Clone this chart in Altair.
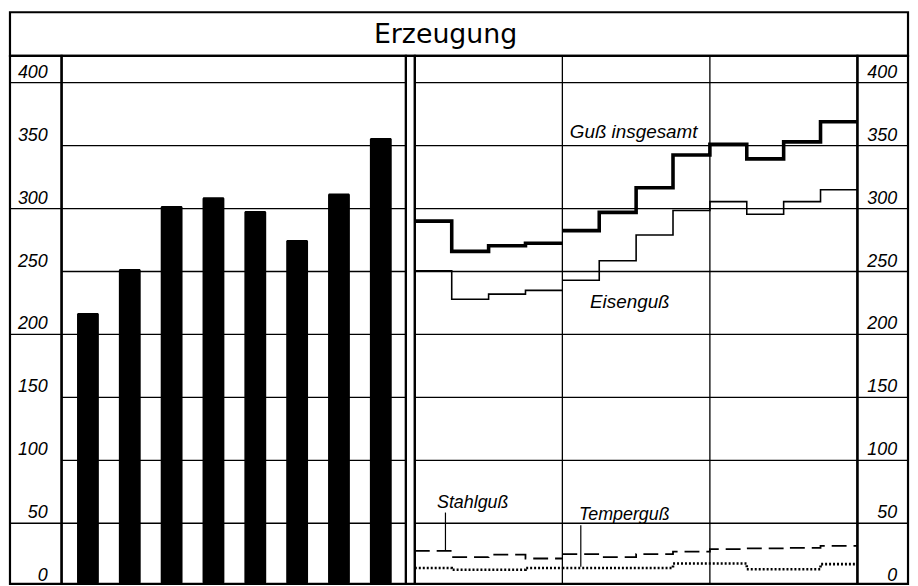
import altair as alt
import pandas as pd

# ---------------- data ----------------
title_text = "Erzeugung"

bar_pos = [1, 2, 3, 4, 5, 6, 7, 8]
bar_values = [217, 252, 302, 309, 298, 275, 312, 356]

# quarterly values, three years (12 quarters)
guss_total = [290, 266, 270.5, 272.5, 282.5, 297, 316.5, 342.5, 351, 339.5, 353, 369]
eisenguss = [250.5, 228, 232, 235, 243, 258.5, 279, 298.5, 305.5, 295.5, 305.5, 315]
stahlguss = [28, 23, 25, 22, 25.5, 23, 25.5, 27.5, 29.5, 30, 30.5, 32]
temperguss = [14.5, 13, 13, 14.5, 14.5, 14.5, 14.5, 18, 18, 13.5, 13.5, 17.5]

tick_values = [0, 50, 100, 150, 200, 250, 300, 350, 400]
tick_labels = ["0", "50", "100", "150", "200", "250", "300", "350", "400"]
left_col_lines = [400, 300, 200, 50]
section_bounds = [4, 8]
segments = [(0, 4), (4, 12)]

# series labels (quarter position, value)
series_names = ["Guß insgesamt", "Eisenguß", "Stahlguß", "Temperguß"]
series_label_q = [4.2, 4.75, 0.6, 4.45]
series_label_v = [356, 221, 62.5, 52.5]
series_label_size = [19, 19, 18, 18]
leader_q = [0.83, 4.5]
leader_v1 = [58.5, 48.5]
leader_v2 = [28.5, 15.5]

# ---------------- layout ----------------
H = 532
Y_DOMAIN = [1.9, 421.3]
ys = alt.Scale(domain=Y_DOMAIN, zero=False, nice=False)
xq = alt.Scale(domain=[0, 12], nice=False, zero=False)
xb = alt.Scale(domain=[0.37, 8.6], nice=False, zero=False, padding=0)

LBL_FONT = "Liberation Sans"
GRID_W = 1.3

ticks_df = pd.DataFrame({"v": tick_values, "label": tick_labels})
grid_df = pd.DataFrame({"v": tick_values[1:]})


def hgrid(values=None):
    df = grid_df if values is None else pd.DataFrame({"v": values})
    return alt.Chart(df).mark_rule(color="black", strokeWidth=GRID_W).encode(
        y=alt.Y("v:Q", scale=ys, axis=None)
    )


def tick_text(xpix):
    return alt.Chart(ticks_df).mark_text(
        align="right", baseline="alphabetic", dy=-5,
        font=LBL_FONT, fontStyle="italic", fontSize=18, color="black"
    ).encode(
        y=alt.Y("v:Q", scale=ys, axis=None),
        x=alt.value(xpix),
        text="label:N",
    )


def step_rows(values):
    rows = []
    for si, (a, b) in enumerate(segments):
        for q in range(a, b):
            rows.append({"q": q, "v": values[q], "seg": si})
        rows.append({"q": b, "v": values[b - 1], "seg": si})
    return pd.DataFrame(rows)


def step_line(values, width, dash=None):
    kw = dict(interpolate="step-after", color="black", strokeWidth=width, clip=True)
    if dash is not None:
        kw["strokeDash"] = dash
    return alt.Chart(step_rows(values)).mark_line(**kw).encode(
        x=alt.X("q:Q", scale=xq, axis=None),
        y=alt.Y("v:Q", scale=ys, axis=None),
        detail="seg:N",
    )


# title panel
title_panel = alt.Chart(pd.DataFrame({"t": [title_text]})).mark_text(
    font="DejaVu Sans", fontSize=27, align="center", baseline="alphabetic", color="black"
).encode(
    text="t:N", x=alt.value(439), y=alt.value(31)
).properties(width=905, height=44)

# left label column
labels_left = alt.layer(
    hgrid(left_col_lines),
    tick_text(38),
).properties(width=52, height=H)

# bar panel
bars_df = pd.DataFrame({"pos": bar_pos, "value": bar_values})
bars = alt.Chart(bars_df).mark_bar(
    color="black", size=22, clip=True, orient="vertical", cornerRadius=1.5
).encode(
    x=alt.X("pos:Q", scale=xb, axis=None),
    y=alt.Y("value:Q", scale=ys, axis=None, stack=None),
)
bar_panel = alt.layer(hgrid(), bars).properties(width=347, height=H)

# narrow gap between the two halves (its edges form the double line)
gap_panel = alt.Chart(pd.DataFrame({"v": [0]})).mark_point(opacity=0).encode(
    x=alt.value(0), y=alt.value(0)
).properties(width=9, height=H)

# step panel
vgrid = alt.Chart(pd.DataFrame({"q": section_bounds})).mark_rule(
    color="black", strokeWidth=GRID_W
).encode(x=alt.X("q:Q", scale=xq, axis=None))

lab_df = pd.DataFrame({
    "name": series_names,
    "q": series_label_q,
    "v": series_label_v,
    "size": series_label_size,
})
series_text = alt.Chart(lab_df).mark_text(
    align="left", baseline="alphabetic", font=LBL_FONT, fontStyle="italic", color="black"
).encode(
    x=alt.X("q:Q", scale=xq, axis=None),
    y=alt.Y("v:Q", scale=ys, axis=None),
    text="name:N",
    size=alt.Size("size:Q", scale=None, legend=None),
)
leaders = alt.Chart(pd.DataFrame({"q": leader_q, "v1": leader_v1, "v2": leader_v2})).mark_rule(
    color="black", strokeWidth=1.2
).encode(
    x=alt.X("q:Q", scale=xq, axis=None),
    y=alt.Y("v1:Q", scale=ys, axis=None),
    y2="v2:Q",
)

step_panel = alt.layer(
    hgrid(),
    vgrid,
    step_line(eisenguss, 1.6),
    step_line(guss_total, 3.6),
    step_line(stahlguss, 1.8, [15, 7]),
    step_line(temperguss, 2.6, [2, 2]),
    leaders,
    series_text,
).properties(width=446, height=H)

# right label column
labels_right = alt.layer(hgrid(), tick_text(40)).properties(width=51, height=H)

main = alt.hconcat(
    labels_left, bar_panel, gap_panel, step_panel, labels_right,
    spacing=0, bounds="flush",
)

chart = alt.vconcat(title_panel, main, spacing=0, bounds="flush").properties(
    padding={"left": 0, "top": 0, "right": 0, "bottom": 0},
    autosize=alt.AutoSizeParams(type="pad"),
    background="white",
).configure_view(stroke="black", strokeWidth=2.2)

chart.save("out.html", embed_options={"renderer": "svg", "actions": False, "padding": 0})
